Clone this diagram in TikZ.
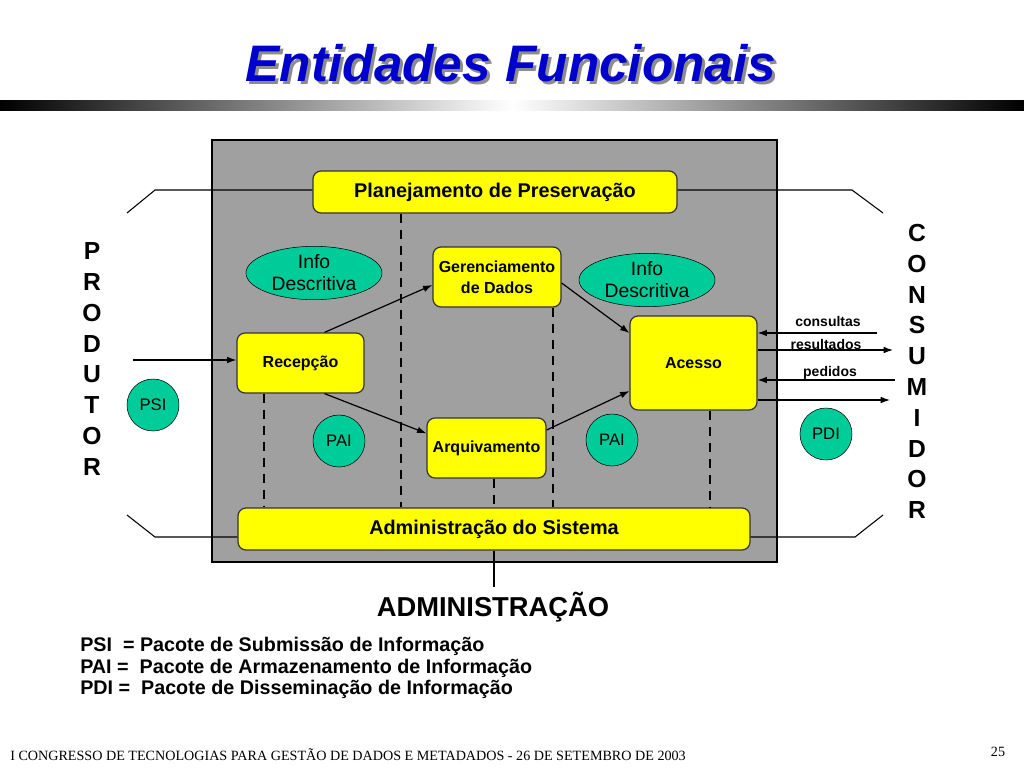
\documentclass[tikz,border=0pt]{standalone}
\usepackage{fontspec}
\setmainfont{Liberation Sans}
\newfontfamily\footfont{Liberation Serif}
\usetikzlibrary{arrows, arrows.meta, shapes.geometric, positioning}

\definecolor{slideblue}{RGB}{0,0,204}
\definecolor{boxyellow}{RGB}{255,255,0}
\definecolor{pkgteal}{RGB}{0,204,153}
\definecolor{panelgray}{RGB}{160,160,160}

\begin{document}
\begin{tikzpicture}[x=0.75pt, y=-0.75pt]

\tikzset{entity/.style = {shape=rectangle, rounded corners=6pt, draw=black!80, line width=0.9pt, fill=boxyellow, align=center, inner sep=0pt, font=\fontsize{12}{15.75}\selectfont\bfseries}}
\tikzset{bar/.style = {entity, minimum height=31.5pt, font=\fontsize{14.9}{17}\selectfont\bfseries}}
\tikzset{info/.style = {shape=ellipse, draw, fill=pkgteal, minimum width=102pt, minimum height=40pt, inner sep=0pt, align=center, font=\fontsize{14.5}{16.5}\selectfont}}
\tikzset{pkg/.style = {shape=circle, draw, fill=pkgteal, minimum size=39pt, inner sep=0pt, font=\fontsize{12.5}{15}\selectfont}}
\tikzset{edge/.style = {->, > = {Latex[length=7pt, width=5pt]}, line width=0.9pt}}
\tikzset{divider/.style = {line width=2.2pt, dash pattern=on 7pt off 5pt}}
\tikzset{flowlabel/.style = {font=\fontsize{10.5}{12}\selectfont\bfseries}}
\tikzset{actor/.style = {align=center, font=\fontsize{18.5}{23.1}\selectfont\bfseries}}

\useasboundingbox (0,0) rectangle (1024,768);

%title
\node[text=black!45, font=\fontsize{38.5}{40}\selectfont\bfseries\itshape] (titleshadow) at (514,66) {Entidades Funcionais};
\node[text=slideblue, font=\fontsize{38.5}{40}\selectfont\bfseries\itshape] (title) at (511,63) {Entidades Funcionais};
\shade[left color=black, right color=white] (0,100) rectangle (512,110);
\shade[left color=white, right color=black] (512,100) rectangle (1024,110);

%panel
\draw[fill=panelgray, line width=0.8pt] (212,140) rectangle (777,562);

%entities
\node[bar, minimum width=273pt] (plan) at (495,192) {Planejamento de Preservação};
\node[bar, minimum width=384pt] (adm) at (494,529) {Administração do Sistema};
\node[entity, minimum width=95.25pt, minimum height=45pt] (rec) at (300.5,363) {Recepção};
\node[entity, minimum width=96pt, minimum height=45pt] (ger) at (497,277) {Gerenciamento\\de Dados};
\node[entity, minimum width=89.25pt, minimum height=45pt] (arq) at (486.5,448) {Arquivamento};
\node[entity, minimum width=95.25pt, minimum height=70.5pt] (acc) at (693.5,363) {Acesso};

%packages
\node[info] (infoL) at (314,273) {Info\\Descritiva};
\node[info] (infoR) at (647,280) {Info\\Descritiva};
\node[pkg] (psi) at (153,405) {PSI};
\node[pkg] (paiL) at (339,441) {PAI};
\node[pkg] (paiR) at (612,440) {PAI};
\node[pkg] (pdi) at (826,434) {PDI};

%dividers
\coordinate (d1) at (264,0);
\coordinate (d2) at (401,0);
\coordinate (d3) at (494,0);
\coordinate (d4) at (553,0);
\coordinate (d5) at (710,0);
\draw[divider] (rec.south -| d1) -- (adm.north -| d1);
\draw[divider] (plan.south -| d2) -- (adm.north -| d2);
\draw[divider] (arq.south -| d3) -- (adm.north -| d3);
\draw[divider] (ger.south -| d4) -- (adm.north -| d4);
\draw[divider] (acc.south -| d5) -- (adm.north -| d5);

%flows
\coordinate (src) at (133,360);
\draw[edge] (src) -- (rec.west |- src);
\draw[edge] ([xshift=18pt]rec.north) -- ([yshift=-6pt]ger.west);
\draw[edge] ([xshift=18pt]rec.south) -- ([yshift=11pt]arq.west);
\draw[edge] ([yshift=-4.5pt]ger.east) -- ([yshift=22.5pt]acc.west);
\draw[edge] ([yshift=13.5pt]arq.east) -- ([yshift=-21pt]acc.west);

%consumer side
\coordinate (q1) at (877,333);
\coordinate (q2) at (893,350);
\coordinate (q3) at (895,380);
\coordinate (q4) at (890,400);
\draw[edge] (q1) -- (acc.east |- q1);
\draw[edge] (acc.east |- q2) -- (q2);
\draw[edge] (q3) -- (acc.east |- q3);
\draw[edge] (acc.east |- q4) -- (q4);
\node[flowlabel] (lq1) at (828,321) {consultas};
\node[flowlabel] (lq2) at (826,344) {resultados};
\node[flowlabel] (lq3) at (830,373) {pedidos};

%brackets
\coordinate (tl) at (155,190);
\coordinate (tr) at (852,190);
\coordinate (bl) at (155,537);
\coordinate (br) at (855,537);
\draw[line width=0.8pt] (127,213) -- (tl) -- (plan.west |- tl);
\draw[line width=0.8pt] (plan.east |- tr) -- (tr) -- (883,213);
\draw[line width=0.8pt] (127,515) -- (bl) -- (adm.west |- bl);
\draw[line width=0.8pt] (adm.east |- br) -- (br) -- (883,515);

%actors
\node[actor] (prod) at (92,359) {P\\R\\O\\D\\U\\T\\O\\R};
\node[actor] (cons) at (917,371.5) {C\\O\\N\\S\\U\\M\\I\\D\\O\\R};
\node[font=\fontsize{20.5}{24}\selectfont\bfseries] (admlabel) at (493,607) {ADMINISTRAÇÃO};
\draw[line width=0.8pt] (adm.south -| d3) -- (admlabel.north -| d3);

%legend
\node[anchor=west, align=left, inner sep=0pt, font=\fontsize{14.8}{16.1}\selectfont\bfseries] (legend) at (80,668) {PSI\ \ = Pacote de Submissão de Informação\\PAI =\ \ Pacote de Armazenamento de Informação\\PDI =\ \ Pacote de Disseminação de Informação};

%footer
\node[anchor=west, inner sep=0pt, font=\footfont\fontsize{10.6}{12}\selectfont] (foot) at (10,755) {I CONGRESSO DE TECNOLOGIAS PARA GESTÃO DE DADOS E METADADOS - 26 DE SETEMBRO DE 2003};
\node[font=\footfont\fontsize{10.6}{12}\selectfont] (page) at (998,752) {25};

\end{tikzpicture}
\end{document}
